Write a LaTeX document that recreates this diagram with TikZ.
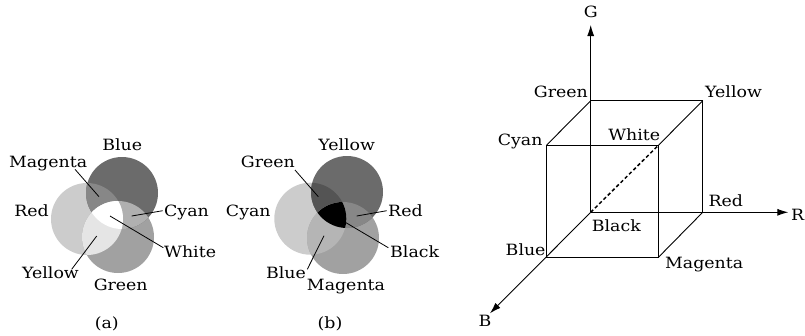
\documentclass[tikz,border=0pt]{standalone}
\usepackage{fontspec}
\setmainfont[FakeStretch=1.12]{DejaVu Serif}
\usetikzlibrary{arrows.meta}
\definecolor{gDark}{gray}{0.42}
\definecolor{gLight}{gray}{0.80}
\definecolor{gMid}{gray}{0.63}
\definecolor{gMagA}{gray}{0.53}
\definecolor{gCyaA}{gray}{0.69}
\definecolor{gYelA}{gray}{0.90}
\definecolor{gGreB}{gray}{0.33}
\definecolor{gRedB}{gray}{0.53}
\definecolor{gBluB}{gray}{0.71}
\begin{document}
\begin{tikzpicture}[x=1pt,y=-1pt,
  lbl/.style={font=\fontsize{15.5}{18}\selectfont, inner sep=0pt},
  leader/.style={line width=0.8pt},
  edge/.style={line width=0.9pt},
  axis/.style={line width=0.9pt,-{Latex[length=11pt,width=7pt]}}]
\useasboundingbox (0,0) rectangle (805,335);
\def\rad{36}
% ---------- (a) additive ----------
\coordinate (aB) at (122,193);
\coordinate (aR) at (87,219);
\coordinate (aG) at (118,237);
\fill[gLight] (aR) circle (\rad);
\fill[gMid] (aG) circle (\rad);
\fill[gDark] (aB) circle (\rad);
\begin{scope}\clip (aR) circle (\rad); \fill[gMagA] (aB) circle (\rad); \end{scope}
\begin{scope}\clip (aB) circle (\rad); \fill[gCyaA] (aG) circle (\rad); \end{scope}
\begin{scope}\clip (aR) circle (\rad); \fill[gYelA] (aG) circle (\rad); \end{scope}
\begin{scope}\clip (aR) circle (\rad); \clip (aB) circle (\rad); \fill[white] (aG) circle (\rad); \end{scope}
\node[lbl,anchor=base] (laBlue) at (122.3,150.7) {Blue};
\node[lbl,anchor=base east] (laMag) at (87.3,167.7) {Magenta};
\node[lbl,anchor=base] (laRed) at (31.5,216.7) {Red};
\node[lbl,anchor=base west] (laCyan) at (164,216.7) {Cyan};
\node[lbl,anchor=base west] (laWhite) at (164,257.7) {White};
\node[lbl,anchor=base east] (laYel) at (79,278.3) {Yellow};
\node[lbl,anchor=base] (laGreen) at (120.7,290) {Green};
\node[lbl,anchor=base] (laCap) at (106.7,328.3) {(a)};
\coordinate (ma1) at (75,169.3); \coordinate (ma2) at (99,196.7);
\coordinate (ca1) at (162.7,210.7); \coordinate (ca2) at (131.7,216);
\coordinate (wa1) at (163.3,247.7); \coordinate (wa2) at (110,216);
\coordinate (ya1) at (71.7,269.3); \coordinate (ya2) at (96.7,236);
\draw[leader] (ma1) -- (ma2);
\draw[leader] (ca1) -- (ca2);
\draw[leader] (wa1) -- (wa2);
\draw[leader] (ya1) -- (ya2);
% ---------- (b) subtractive ----------
\coordinate (bY) at (347,192);
\coordinate (bC) at (310.3,218.7);
\coordinate (bM) at (343,238);
\fill[gLight] (bC) circle (\rad);
\fill[gMid] (bM) circle (\rad);
\fill[gDark] (bY) circle (\rad);
\begin{scope}\clip (bC) circle (\rad); \fill[gGreB] (bY) circle (\rad); \end{scope}
\begin{scope}\clip (bY) circle (\rad); \fill[gRedB] (bM) circle (\rad); \end{scope}
\begin{scope}\clip (bC) circle (\rad); \fill[gBluB] (bM) circle (\rad); \end{scope}
\begin{scope}\clip (bC) circle (\rad); \clip (bY) circle (\rad); \fill[black] (bM) circle (\rad); \end{scope}
\node[lbl,anchor=base] (lbYel) at (346.7,150.7) {Yellow};
\node[lbl,anchor=base east] (lbGreen) at (295,167.7) {Green};
\node[lbl,anchor=base] (lbCyan) at (248.3,216.7) {Cyan};
\node[lbl,anchor=base west] (lbRed) at (388,216.7) {Red};
\node[lbl,anchor=base west] (lbBlack) at (390,257.7) {Black};
\node[lbl,anchor=base east] (lbBlue) at (306,278.3) {Blue};
\node[lbl,anchor=base] (lbMag) at (346,290) {Magenta};
\node[lbl,anchor=base] (lbCap) at (330,328.3) {(b)};
\coordinate (gb1) at (295,170); \coordinate (gb2) at (318.3,196.7);
\coordinate (rb1) at (386.7,210.7); \coordinate (rb2) at (356.7,216);
\coordinate (kb1) at (388.3,247.7); \coordinate (kb2) at (346,222.7);
\coordinate (bb1) at (307.3,269.3); \coordinate (bb2) at (324,235.7);
\draw[leader] (gb1) -- (gb2);
\draw[leader] (rb1) -- (rb2);
\draw[leader] (kb1) -- (kb2);
\draw[leader] (bb1) -- (bb2);
% ---------- cube ----------
\coordinate (K) at (590.7,212.3);
\coordinate (Rc) at (702.7,212.3);
\coordinate (Gc) at (590.7,100.7);
\coordinate (Yc) at (702.7,100.7);
\coordinate (Cc) at (546.7,145);
\coordinate (Wc) at (658.7,145);
\coordinate (Bc) at (546.7,257);
\coordinate (Mc) at (658.7,257);
\coordinate (Rt) at (788.3,212.3);
\coordinate (Gt) at (590.7,25);
\coordinate (Bt) at (490,313.3);
\draw[axis] (K) -- (Rt);
\draw[axis] (K) -- (Gt);
\draw[axis] (K) -- (Bt);
\draw[edge] (Gc) -- (Yc) -- (Rc);
\draw[edge] (Cc) -- (Wc) -- (Mc) -- (Bc) -- cycle;
\draw[edge] (Gc) -- (Cc);
\draw[edge] (Yc) -- (Wc);
\draw[edge] (Rc) -- (Mc);
\draw[line width=1.5pt, dash pattern=on 3.5pt off 2.5pt] (K) -- (Wc);
\node[lbl,anchor=base] (lG) at (590.7,17.3) {G};
\node[lbl,anchor=base west] (lR) at (791,220) {R};
\node[lbl,anchor=base] (lB) at (485,326.7) {B};
\node[lbl,anchor=base east] (lcGreen) at (588,97.7) {Green};
\node[lbl,anchor=base west] (lcYel) at (705,97.7) {Yellow};
\node[lbl,anchor=base east] (lcCyan) at (542.7,145.7) {Cyan};
\node[lbl,anchor=base] (lcWhite) at (634.3,140.7) {White};
\node[lbl,anchor=base west] (lcRed) at (708.3,206.7) {Red};
\node[lbl,anchor=base west] (lcBlack) at (591.7,231.7) {Black};
\node[lbl,anchor=base east] (lcBlue) at (545.7,255) {Blue};
\node[lbl,anchor=base west] (lcMag) at (665,268.3) {Magenta};
\end{tikzpicture}
\end{document}
